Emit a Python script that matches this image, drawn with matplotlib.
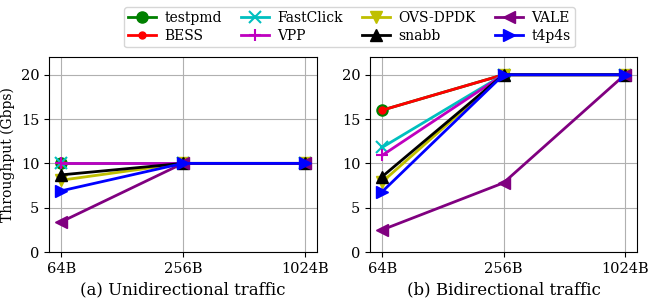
import matplotlib
matplotlib.use("Agg")
import matplotlib.pyplot as plt
import numpy as np

plt.rcParams['font.family'] = 'DejaVu Serif'
plt.rcParams['font.size'] = 10

sizes = ['64B', '256B', '1024B']
names = ['testpmd', 'BESS', 'FastClick', 'VPP', 'OVS-DPDK', 'snabb', 'VALE', 't4p4s']
colors = ['g', 'r', 'c', 'm', 'y', 'k', 'purple', 'b']
markers = ['o', '.', 'x', '+', 'v', '^', '<', '>']

uni = [
    [10, 10, 10],
    [10, 10, 10],
    [10, 10, 10],
    [10, 10, 10],
    [8.1, 10, 10],
    [8.7, 10, 10],
    [3.4, 10, 10],
    [6.9, 10, 10],
]
bidi = [
    [16, 20, 20],
    [16, 20, 20],
    [11.8, 20, 20],
    [10.9, 20, 20],
    [7.9, 20, 20],
    [8.5, 20, 20],
    [2.5, 7.8, 20],
    [6.8, 20, 20],
]

fig = plt.figure(figsize=(6.48, 3.0), dpi=100)
ax1 = fig.add_axes([49 / 648, 48 / 300, 268 / 648, 195 / 300])
ax2 = fig.add_axes([370 / 648, 48 / 300, 267 / 648, 195 / 300])

x = np.arange(len(sizes))
for ax, data, title in [(ax1, uni, '(a) Unidirectional traffic'),
                        (ax2, bidi, '(b) Bidirectional traffic')]:
    for name, c, m, vals in zip(names, colors, markers, data):
        ms = 10 if m == '.' else 8
        ax.plot(x, vals, color=c, marker=m, markersize=ms, linewidth=2,
                markeredgewidth=1.5 if m in 'x+' else 1, label=name)
    ax.set_xticks(x)
    ax.set_xticklabels(sizes)
    ax.set_xlim(-0.1, 2.1)
    ax.set_ylim(0, 22)
    ax.set_yticks([0, 5, 10, 15, 20])
    ax.tick_params(labelsize=10.5)
    ax.grid(True, color='#b0b0b0', linewidth=0.8)
    ax.set_xlabel(title, fontsize=12)

ax1.set_ylabel('Throughput (Gbps)', fontsize=10)

handles, labels = ax1.get_legend_handles_labels()
fig.legend(handles, labels, loc='upper center', ncol=4, bbox_to_anchor=(0.539, 1.0),
           fontsize=10, handlelength=2, columnspacing=1.4, labelspacing=0.3,
           borderpad=0.3, handletextpad=0.6)

fig.savefig('out.png', dpi=100)
